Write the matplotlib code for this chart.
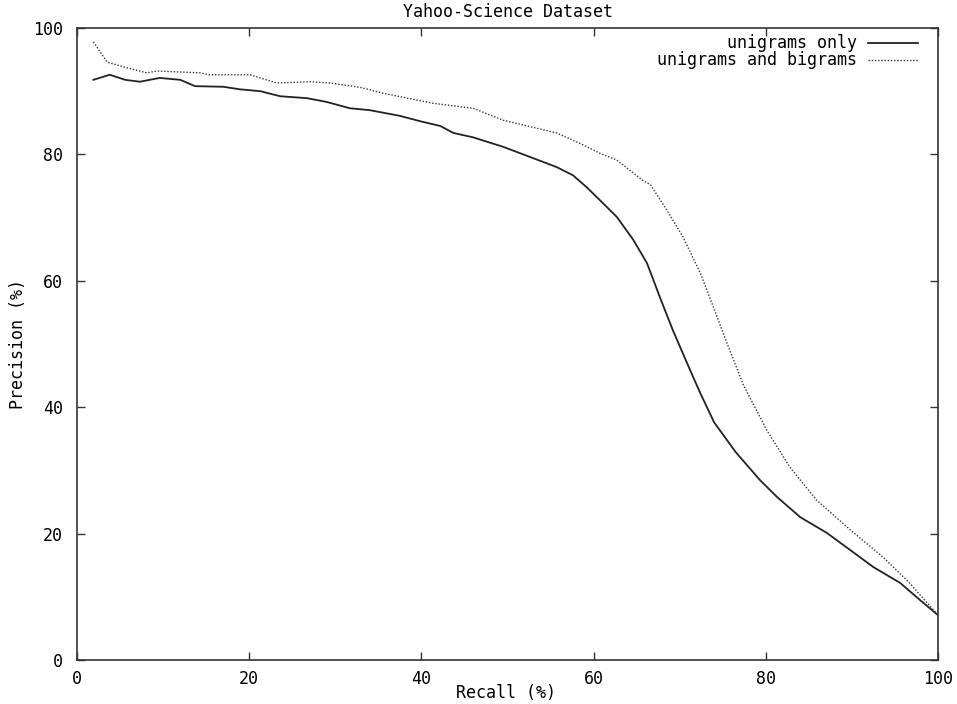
import matplotlib
matplotlib.use("Agg")
import matplotlib.pyplot as plt
from matplotlib.lines import Line2D

# Data
uni_recall = [1.9, 3.8, 5.6, 7.3, 9.6, 12.0, 13.7, 17.0, 18.9, 21.3, 23.6, 26.7, 29.0, 31.7,
              34.0, 37.5, 40.0, 42.2, 43.7, 46.0, 49.5, 52.6, 55.7, 57.6, 59.2, 60.7, 62.7,
              64.6, 66.2, 67.7, 69.2, 71.2, 72.4, 74.0, 76.5, 79.3, 81.3, 84.0, 87.1, 89.8,
              92.5, 95.6, 97.9, 100.0]
uni_precision = [91.8, 92.6, 91.8, 91.5, 92.1, 91.8, 90.8, 90.7, 90.3, 90.0, 89.2, 88.9, 88.3, 87.3,
                 87.0, 86.1, 85.2, 84.5, 83.4, 82.7, 81.2, 79.6, 78.0, 76.7, 74.8, 72.8, 70.1,
                 66.5, 62.8, 57.4, 52.2, 45.9, 42.2, 37.6, 32.9, 28.5, 25.8, 22.6, 20.1, 17.4,
                 14.7, 12.2, 9.5, 7.1]

bi_recall = [1.9, 3.5, 5.8, 8.1, 9.3, 14.3, 15.4, 20.1, 23.2, 27.1, 29.4, 32.9, 35.5, 41.3,
             46.0, 49.5, 55.7, 58.8, 60.7, 62.7, 65.7, 66.6, 68.5, 70.4, 72.4, 73.9, 75.5,
             77.4, 80.1, 82.8, 85.9, 89.8, 93.6, 96.7, 100.0]
bi_precision = [97.8, 94.6, 93.7, 92.9, 93.2, 92.9, 92.6, 92.6, 91.3, 91.5, 91.3, 90.6, 89.7, 88.1,
                87.3, 85.4, 83.4, 81.5, 80.2, 79.1, 75.9, 75.2, 71.2, 66.9, 61.2, 55.9, 50.1,
                43.5, 36.4, 30.5, 25.3, 20.6, 16.3, 12.2, 7.1]

series_labels = ["unigrams only", "unigrams and bigrams"]
x_ticks = [0, 20, 40, 60, 80, 100]
y_ticks = [0, 20, 40, 60, 80, 100]

font = "DejaVu Sans Mono"
fs = 12
W, H = 957, 704

fig = plt.figure(figsize=(W / 100, H / 100), dpi=100)
ax = fig.add_axes([77/W, 44/H, (938-77)/W, (660-28)/H])

solid_style = dict(color="#222222", lw=1.3, ls="-")
dot_style = dict(color="#333333", lw=1.0, ls=(0, (1, 1.3)))

ax.plot(uni_recall, uni_precision, **solid_style)
ax.plot(bi_recall, bi_precision, **dot_style)

ax.set_xlim(0, 100)
ax.set_ylim(0, 100)
ax.set_xticks(x_ticks)
ax.set_yticks(y_ticks)
ax.tick_params(direction="in", top=True, right=True, length=6, width=1, color="#333333",
               labelsize=fs)
ax.tick_params(axis="y", pad=10)
ax.tick_params(axis="x", pad=7)
for lbl in ax.get_xticklabels() + ax.get_yticklabels():
    lbl.set_family(font)
for s in ax.spines.values():
    s.set_color("#333333")
    s.set_linewidth(1.2)

fig.text(506/W, 1 - 693/H, "Recall (%)", ha="center", va="center", family=font, fontsize=fs)
fig.text(18/W, 1 - 344/H, "Precision (%)", ha="center", va="center", rotation=90,
         family=font, fontsize=fs)
fig.text(508/W, 1 - 12/H, "Yahoo-Science Dataset", ha="center", va="center",
         family=font, fontsize=fs)

# gnuplot-style key: text right-aligned, sample line to its right
for lab, style, ypx in zip(series_labels, [solid_style, dot_style], [43, 60]):
    fig.text(857/W, 1 - ypx/H, lab, ha="right", va="center", family=font, fontsize=fs)
    fig.add_artist(Line2D([868/W, 918/W], [1 - ypx/H, 1 - ypx/H], transform=fig.transFigure,
                          **style))

fig.savefig("out.png", dpi=100)
